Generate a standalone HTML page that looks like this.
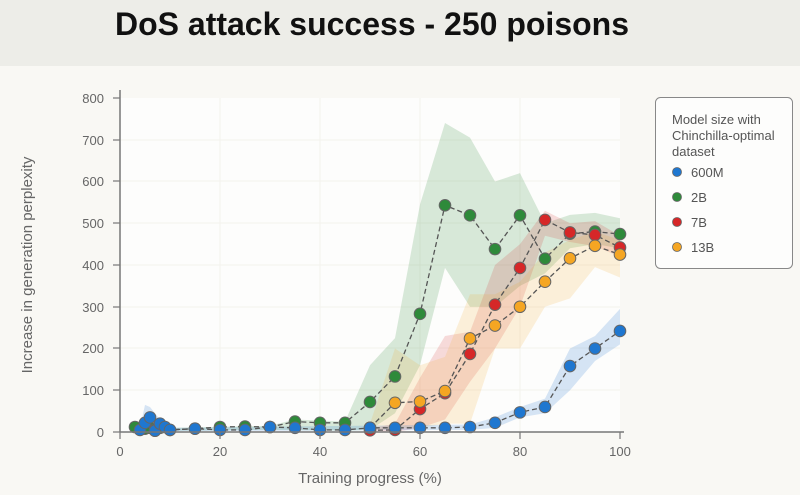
<!DOCTYPE html>
<html><head><meta charset="utf-8"><style>
body{margin:0;width:800px;height:495px;background:#f9f8f4;font-family:"Liberation Sans",sans-serif;overflow:hidden}
.top{position:absolute;left:0;top:0;width:800px;height:66px;background:#edede8}
.title{position:absolute;left:115px;top:6px;font-size:32px;font-weight:bold;color:#111}
</style></head><body>
<div class="top"></div>
<div class="title">DoS attack success - 250 poisons</div>
<svg width="800" height="495" style="position:absolute;left:0;top:0" font-family="Liberation Sans, sans-serif">
<rect x="120" y="98" width="500" height="334" fill="#fdfdfc"/>
<g stroke="#f3f2ed" stroke-width="1">
<line x1="220" y1="98" x2="220" y2="432"/><line x1="320" y1="98" x2="320" y2="432"/><line x1="420" y1="98" x2="420" y2="432"/><line x1="520" y1="98" x2="520" y2="432"/>
<line x1="120" y1="140" x2="620" y2="140"/><line x1="120" y1="181" x2="620" y2="181"/><line x1="120" y1="223" x2="620" y2="223"/><line x1="120" y1="265" x2="620" y2="265"/><line x1="120" y1="307" x2="620" y2="307"/><line x1="120" y1="348" x2="620" y2="348"/><line x1="120" y1="390" x2="620" y2="390"/>
</g>
<g id="bands"></g>
<g id="lines"></g>
<g stroke="#777" stroke-width="1.5" fill="none">
<line x1="120" y1="90" x2="120" y2="432"/><line x1="120" y1="432" x2="624" y2="432"/>
</g>
<g stroke="#777" stroke-width="1.2">
<line x1="113" y1="98" x2="120" y2="98"/><line x1="113" y1="140" x2="120" y2="140"/><line x1="113" y1="181" x2="120" y2="181"/><line x1="113" y1="223" x2="120" y2="223"/><line x1="113" y1="265" x2="120" y2="265"/><line x1="113" y1="307" x2="120" y2="307"/><line x1="113" y1="348" x2="120" y2="348"/><line x1="113" y1="390" x2="120" y2="390"/><line x1="113" y1="432" x2="120" y2="432"/>
<line x1="120" y1="432" x2="120" y2="439"/><line x1="220" y1="432" x2="220" y2="439"/><line x1="320" y1="432" x2="320" y2="439"/><line x1="420" y1="432" x2="420" y2="439"/><line x1="520" y1="432" x2="520" y2="439"/><line x1="620" y1="432" x2="620" y2="439"/>
</g>
<g font-size="13" fill="#666" text-anchor="end">
<text x="104" y="103">800</text><text x="104" y="145">700</text><text x="104" y="186">600</text><text x="104" y="228">500</text><text x="104" y="270">400</text><text x="104" y="312">300</text><text x="104" y="353">200</text><text x="104" y="395">100</text><text x="104" y="437">0</text>
</g>
<g font-size="13" fill="#666" text-anchor="middle">
<text x="120" y="456">0</text><text x="220" y="456">20</text><text x="320" y="456">40</text><text x="420" y="456">60</text><text x="520" y="456">80</text><text x="620" y="456">100</text>
</g>
<text x="370" y="483" font-size="15" fill="#666" text-anchor="middle">Training progress (%)</text>
<text transform="translate(32,265) rotate(-90)" font-size="15" fill="#666" text-anchor="middle">Increase in generation perplexity</text>
<rect x="655.5" y="97.5" width="137" height="171" rx="5" fill="#fdfdfc" stroke="#888"/>
<g font-size="13" fill="#555">
<text x="672" y="124">Model size with</text><text x="672" y="140">Chinchilla-optimal</text><text x="672" y="156">dataset</text>
<text x="691" y="177">600M</text><text x="691" y="202">2B</text><text x="691" y="227">7B</text><text x="691" y="252">13B</text>
</g>
<g stroke="#666" stroke-width="0.8"><circle cx="677" cy="172" r="4.5" fill="#1f77d0"/><circle cx="677" cy="197" r="4.5" fill="#2e8a3a"/><circle cx="677" cy="222" r="4.5" fill="#d62728"/><circle cx="677" cy="247" r="4.5" fill="#f5a623"/></g>
</svg>
<script>
const X=p=>120+p*5, Y=v=>432-v*0.4175;
const S=[
{c:"#2e8a3a",f:"rgba(46,138,58,0.18)",
d:[[3,12],[5,8],[6,10],[7,6],[8,10],[10,5],[15,8],[20,12],[25,13],[30,12],[35,25],[40,22],[45,22],[50,72],[55,133],[60,283],[65,543],[70,519],[75,438],[80,519],[85,415],[90,475],[95,480],[100,474]],
u:[[3,15],[10,10],[30,15],[35,30],[45,25],[50,160],[55,225],[60,545],[65,740],[70,705],[75,600],[80,620],[85,500],[90,520],[95,525],[100,512]],
l:[[3,5],[10,3],[30,5],[45,3],[50,5],[55,45],[60,160],[65,393],[70,300],[75,300],[80,350],[85,380],[90,440],[95,450],[100,440]]},
{c:"#d62728",f:"rgba(214,39,40,0.16)",
d:[[50,4],[55,5],[60,55],[65,93],[70,187],[75,305],[80,393],[85,508],[90,478],[95,472],[100,442]],
u:[[50,8],[55,20],[60,130],[65,230],[70,240],[75,400],[80,450],[85,530],[90,500],[95,505],[100,470]],
l:[[50,0],[55,0],[60,10],[65,30],[70,120],[75,200],[80,300],[85,470],[90,455],[95,445],[100,420]]},
{c:"#f5a623",f:"rgba(245,166,35,0.16)",
d:[[50,10],[55,70],[60,73],[65,98],[70,224],[75,255],[80,300],[85,360],[90,416],[95,446],[100,425]],
u:[[50,20],[55,200],[60,160],[65,180],[70,330],[75,330],[80,360],[85,430],[90,460],[95,480],[100,460]],
l:[[50,2],[55,10],[60,10],[65,20],[70,20],[75,200],[80,200],[85,300],[90,320],[95,395],[100,370]]},
{c:"#1f77d0",f:"rgba(31,119,208,0.18)",
d:[[4,5],[5,22],[6,35],[7,3],[8,20],[9,12],[10,5],[15,8],[20,5],[25,5],[30,12],[35,10],[40,5],[45,5],[50,10],[55,10],[60,10],[65,10],[70,12],[75,22],[80,47],[85,60],[90,158],[95,200],[100,242]],
u:[[4,10],[5,65],[6,60],[8,30],[10,10],[70,18],[75,35],[80,60],[85,80],[90,200],[95,230],[100,295]],
l:[[4,0],[5,5],[6,10],[8,5],[10,2],[70,5],[75,10],[80,35],[85,45],[90,100],[95,170],[100,210]]}
];
let b="",ln="";
const pts=a=>a.map(p=>X(p[0])+","+Y(p[1])).join(" ");
for(const s of S){
 b+=`<polygon points="${pts(s.u)} ${pts(s.l.slice().reverse())}" fill="${s.f}"/>`;
}
for(const s of S){
 ln+=`<polyline points="${pts(s.d)}" fill="none" stroke="#555" stroke-width="1.3" stroke-dasharray="5,3"/>`;
 for(const p of s.d) ln+=`<circle cx="${X(p[0])}" cy="${Y(p[1])}" r="5.8" fill="${s.c}" stroke="#666" stroke-width="1"/>`;
}
document.getElementById("bands").innerHTML=b;
document.getElementById("lines").innerHTML=ln;
</script>
</body></html>
